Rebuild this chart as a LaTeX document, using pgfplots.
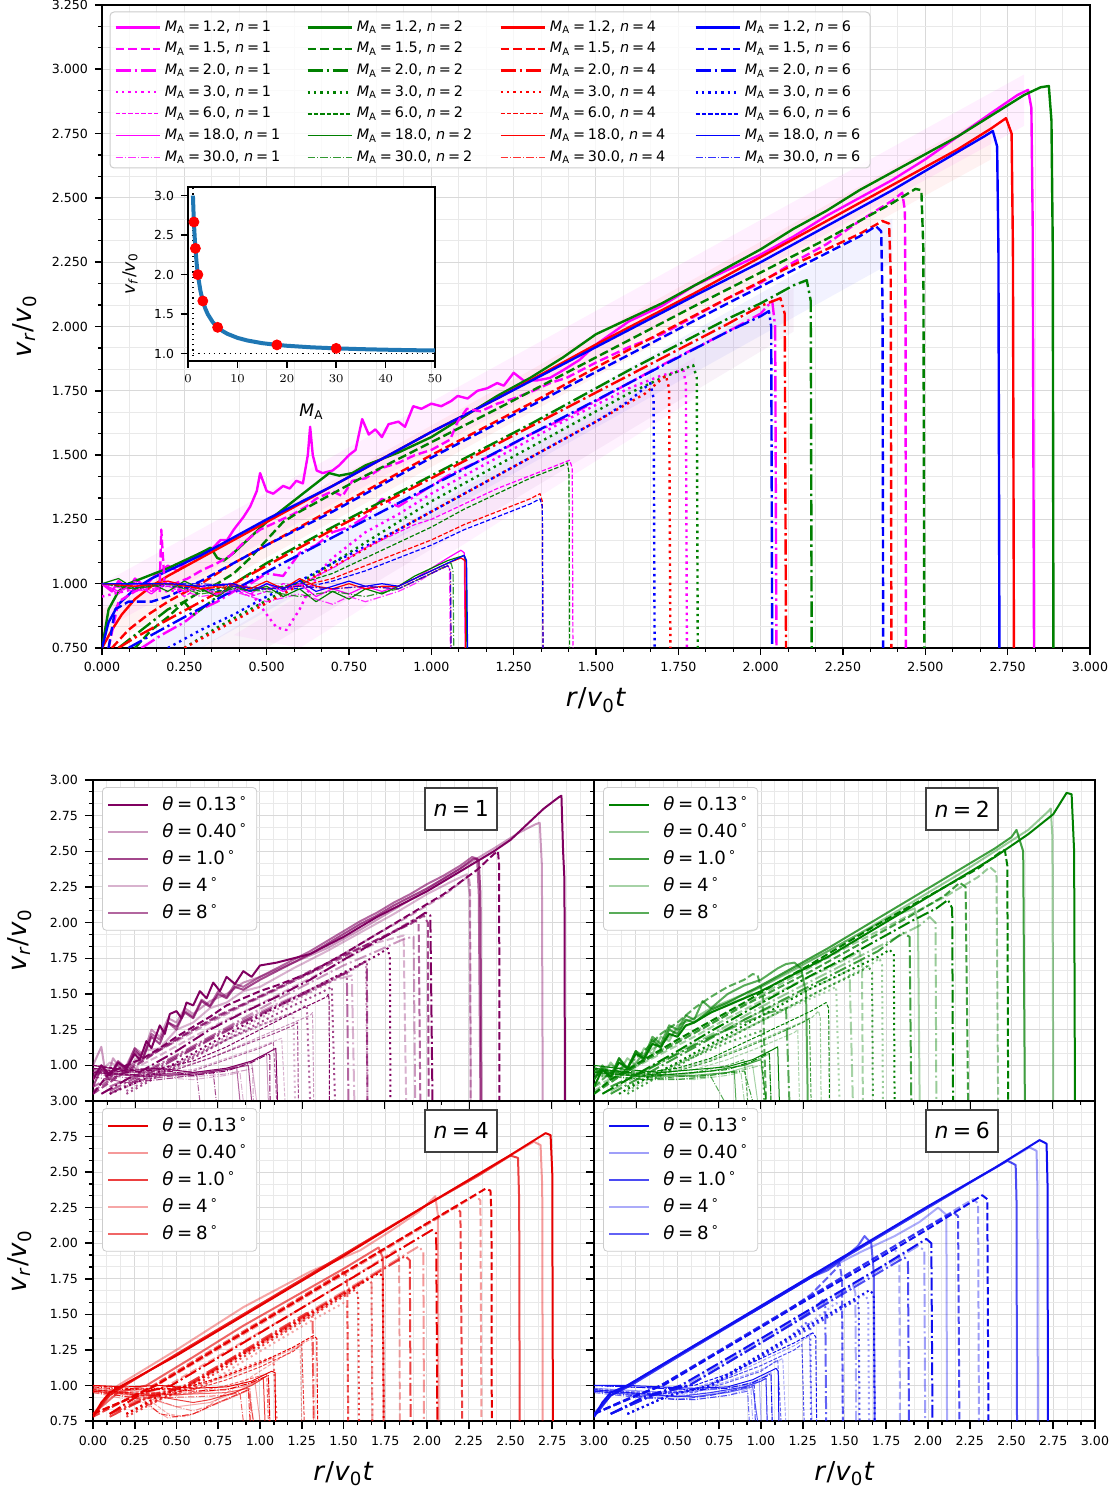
\documentclass[border=0pt]{standalone}
\usepackage{fontspec}
\setmainfont{DejaVu Sans}
\usepackage{pgfplots}
\pgfplotsset{compat=1.18}
\newcommand{\MA}{\textit{M}\textsubscript{A}}
\newcommand{\eq}{\hspace{0.2em}=\hspace{0.2em}}
\newcommand{\vrv}{\textit{v}\textsubscript{\textit{r}}/\textit{v}\textsubscript{0}}
\newcommand{\rvt}{\textit{r}/\textit{v}\textsubscript{0}\textit{t}}
\newcommand{\thl}[1]{\textit{θ}\eq#1\hspace{0.12em}\textsuperscript{∘}}
\newcommand{\cv}[2]{\addplot[#1,forget plot] coordinates {#2};}
\newcommand{\lgE}[3]{\addlegendimage{color=#1,draw=#1,#2}\addlegendentry{\MA\eq#3, \textit{n}\eq\nn}}
\definecolor{cM}{RGB}{255,0,255}
\definecolor{cG}{RGB}{0,128,0}
\definecolor{cR}{RGB}{255,0,0}
\definecolor{cB}{RGB}{0,0,255}
\definecolor{pP}{RGB}{128,0,96}
\definecolor{pG}{RGB}{0,128,0}
\definecolor{pR}{RGB}{230,0,0}
\definecolor{pB}{RGB}{15,15,240}
\definecolor{tabblue}{RGB}{31,119,180}
\tikzset{
 P1/.style={color=pP,draw opacity=1}, P2/.style={color=pP,draw opacity=0.4}, P3/.style={color=pP,draw opacity=0.72}, P4/.style={color=pP,draw opacity=0.3}, P5/.style={color=pP,draw opacity=0.6},
 G1/.style={color=pG,draw opacity=1}, G2/.style={color=pG,draw opacity=0.4}, G3/.style={color=pG,draw opacity=0.75}, G4/.style={color=pG,draw opacity=0.35}, G5/.style={color=pG,draw opacity=0.65},
 R1/.style={color=pR,draw opacity=1}, R2/.style={color=pR,draw opacity=0.4}, R3/.style={color=pR,draw opacity=0.75}, R4/.style={color=pR,draw opacity=0.35}, R5/.style={color=pR,draw opacity=0.6},
 B1/.style={color=pB,draw opacity=1}, B2/.style={color=pB,draw opacity=0.4}, B3/.style={color=pB,draw opacity=0.75}, B4/.style={color=pB,draw opacity=0.35}, B5/.style={color=pB,draw opacity=0.65},
 tA/.style={line width=1.2pt},
 tB/.style={line width=1.2pt, dash pattern=on 4.4pt off 1.9pt},
 tC/.style={line width=1.2pt, dash pattern=on 7.7pt off 1.9pt on 1.2pt off 1.9pt},
 tD/.style={line width=1.2pt, dash pattern=on 1.2pt off 2pt},
 tE/.style={line width=0.6pt, dash pattern=on 2.2pt off 1pt},
 tF/.style={line width=0.6pt},
 tG/.style={line width=0.6pt, dash pattern=on 3.8pt off 1pt on 0.6pt off 1pt, draw opacity=0.8},
 bA/.style={line width=1pt},
 bB/.style={line width=1pt, dash pattern=on 3.7pt off 1.6pt},
 bC/.style={line width=1pt, dash pattern=on 6.4pt off 1.6pt on 1pt off 1.6pt},
 bD/.style={line width=1pt, dash pattern=on 1pt off 1.65pt},
 bE/.style={line width=0.5pt, dash pattern=on 1.85pt off 0.8pt},
 bF/.style={line width=0.5pt},
 bG/.style={line width=0.5pt, dash pattern=on 3.2pt off 0.8pt on 0.5pt off 0.8pt},
 nbox/.style={draw=black!75, line width=1pt, fill=white, minimum width=36pt, minimum height=21pt, font=\fontsize{11}{13}\selectfont},
}
\pgfplotsset{
 myaxis/.style={scale only axis, anchor=south west, axis line style={line width=0.9pt}, tick pos=left, tick align=outside,
  major tick length=3.5pt, minor tick length=2pt, tick style={black}, major tick style={line width=0.8pt}, minor tick style={line width=0.6pt},
  grid=both, major grid style={gray!30, line width=0.5pt}, minor grid style={gray!17, line width=0.45pt}, minor tick num=2,
  ticklabel style={font=\fontsize{6.3}{7}\selectfont}, every axis plot/.append style={line join=round}},
 lowaxis/.style={myaxis, width=250.5pt, xmin=0, xmax=3, ymin=0.75, ymax=3,
  xtick={0,0.25,0.5,0.75,1,1.25,1.5,1.75,2,2.25,2.5,2.75,3}, major tick length=4pt,
  legend cell align=left, legend image code/.code={\draw[##1] (0pt,0pt) -- (20pt,0pt); \path (24.5pt,0pt);},
  legend style={at={(0.018,0.978)}, anchor=north west, font=\fontsize{9.1}{11}\selectfont, draw=gray!40, rounded corners=2pt, fill=white, row sep=1pt, inner sep=2.5pt}},
 legaxis/.style={scale only axis, anchor=south west, at={(51pt,424pt)}, width=494pt, height=321.5pt, hide axis, xmin=0, xmax=1, ymin=0, ymax=1,
  legend cell align=left, legend image code/.code={\draw[##1] (0pt,0pt) -- (22pt,0pt);},
  legend style={at={(#1,0.989)}, anchor=north west, font=\fontsize{7.2}{8.2}\selectfont, draw=none, fill=none, row sep=0pt, inner sep=2pt}},
}
\begin{document}
\begin{tikzpicture}
\useasboundingbox (0,0) rectangle (559pt,748pt);
% ================= TOP PANEL =================
\begin{axis}[myaxis, at={(51pt,424pt)}, width=494pt, height=321.5pt, xmin=0, xmax=3, ymin=0.75, ymax=3.25,
 xtick={0,0.25,0.5,0.75,1,1.25,1.5,1.75,2,2.25,2.5,2.75,3},
 xticklabels={0.000,0.250,0.500,0.750,1.000,1.250,1.500,1.750,2.000,2.250,2.500,2.750,3.000},
 ytick={0.75,1,1.25,1.5,1.75,2,2.25,2.5,2.75,3,3.25},
 yticklabels={0.750,1.000,1.250,1.500,1.750,2.000,2.250,2.500,2.750,3.000,3.250},
 xlabel={\rvt}, ylabel={\vrv},
 xlabel style={font=\fontsize{13}{15}\selectfont, at={(axis description cs:0.5,-0.081)}, anchor=center},
 ylabel style={font=\fontsize{13}{15}\selectfont, at={(axis description cs:-0.078,0.5)}, anchor=center},
]
% faint bands
\addplot[fill=cM, fill opacity=0.06, draw=none] coordinates {(0,1.0)(2.8,2.98)(2.8,2.78)(0,0.82)} -- cycle;
\addplot[fill=cR, fill opacity=0.05, draw=none] coordinates {(0,0.9)(2.7,2.83)(2.7,2.65)(0,0.75)} -- cycle;
\addplot[fill=cB, fill opacity=0.05, draw=none] coordinates {(0.1,0.75)(2.4,2.42)(2.4,2.25)(0.3,0.75)} -- cycle;
\addplot[fill=violet, fill opacity=0.05, draw=none] coordinates {(0.3,0.75)(2.1,2.15)(2.1,1.98)(0.5,0.75)} -- cycle;
\addplot[fill=cM, fill opacity=0.05, draw=none] coordinates {(0.4,0.8)(1.8,1.88)(1.8,1.72)(0.6,0.75)} -- cycle;
% M=1.2
\addplot[color=cM,tA] coordinates {(0.0,1.0)(0.03,0.97)(0.05,1.01)(0.08,0.98)(0.1,1.02)(0.13,0.99)(0.16,1.03)(0.2,1.07)(0.23,1.05)(0.26,1.09)(0.3,1.12)(0.33,1.13)(0.36,1.17)(0.38,1.17)(0.4,1.21)(0.43,1.26)(0.45,1.3)(0.47,1.36)(0.48,1.43)(0.5,1.36)(0.52,1.35)(0.55,1.38)(0.57,1.37)(0.59,1.40)(0.61,1.39)(0.625,1.50)(0.632,1.61)(0.64,1.50)(0.652,1.44)(0.67,1.43)(0.70,1.44)(0.72,1.46)(0.75,1.50)(0.77,1.52)(0.79,1.64)(0.81,1.58)(0.83,1.60)(0.85,1.57)(0.87,1.62)(0.9,1.63)(0.92,1.61)(0.945,1.69)(0.97,1.68)(1.0,1.70)(1.03,1.69)(1.06,1.71)(1.08,1.73)(1.11,1.72)(1.14,1.75)(1.17,1.76)(1.2,1.78)(1.22,1.77)(1.25,1.82)(1.28,1.79)(1.32,1.79)(1.36,1.80)(1.4,1.83)(1.45,1.87)(1.5,1.93)(1.6,2.02)(1.7,2.08)(1.8,2.16)(1.9,2.22)(2.0,2.28)(2.1,2.35)(2.2,2.43)(2.3,2.50)(2.4,2.57)(2.5,2.65)(2.6,2.74)(2.7,2.83)(2.78,2.9)(2.812,2.92)(2.822,2.85)(2.826,2.4)(2.83,0.75)};
\addplot[color=cG,tA] coordinates {(0.0,0.75)(0.02,0.9)(0.05,0.97)(0.08,1.0)(0.12,1.02)(0.16,1.04)(0.2,1.06)(0.25,1.09)(0.3,1.12)(0.33,1.14)(0.35,1.10)(0.37,1.09)(0.4,1.12)(0.45,1.18)(0.5,1.24)(0.55,1.29)(0.6,1.34)(0.65,1.39)(0.69,1.43)(0.72,1.42)(0.76,1.43)(0.8,1.46)(0.9,1.51)(1.0,1.57)(1.1,1.65)(1.2,1.73)(1.3,1.80)(1.4,1.88)(1.5,1.97)(1.6,2.03)(1.7,2.09)(1.8,2.16)(1.9,2.23)(2.0,2.30)(2.1,2.38)(2.2,2.45)(2.3,2.53)(2.4,2.60)(2.5,2.67)(2.6,2.74)(2.7,2.82)(2.8,2.90)(2.85,2.93)(2.875,2.935)(2.883,2.8)(2.887,2.3)(2.889,0.75)};
\addplot[color=cR,tA] coordinates {(0.0,0.75)(0.03,0.82)(0.06,0.88)(0.1,0.94)(0.15,0.99)(0.2,1.03)(0.3,1.10)(0.4,1.17)(0.5,1.24)(0.7,1.38)(1.0,1.59)(1.2,1.72)(1.5,1.93)(1.8,2.13)(2.0,2.27)(2.2,2.41)(2.4,2.55)(2.6,2.69)(2.7,2.77)(2.745,2.81)(2.762,2.75)(2.766,2.3)(2.769,0.75)};
\addplot[color=cB,tA] coordinates {(0.0,0.75)(0.02,0.85)(0.05,0.92)(0.1,0.98)(0.15,1.02)(0.2,1.05)(0.3,1.11)(0.4,1.18)(0.5,1.25)(0.7,1.38)(1.0,1.59)(1.2,1.72)(1.5,1.92)(1.8,2.12)(2.0,2.25)(2.2,2.39)(2.4,2.53)(2.6,2.68)(2.68,2.74)(2.705,2.76)(2.718,2.7)(2.722,2.3)(2.725,0.75)};
% M=1.5
\addplot[color=cM,tB] coordinates {(0.02,0.75)(0.05,0.93)(0.1,0.97)(0.15,1.0)(0.175,0.98)(0.18,1.21)(0.19,1.0)(0.22,1.0)(0.26,1.02)(0.3,1.05)(0.35,1.08)(0.39,1.11)(0.43,1.16)(0.48,1.21)(0.53,1.24)(0.58,1.27)(0.62,1.30)(0.65,1.33)(0.7,1.36)(0.73,1.34)(0.76,1.40)(0.8,1.41)(0.85,1.45)(0.9,1.47)(0.95,1.50)(1.0,1.52)(1.057,1.56)(1.08,1.63)(1.108,1.68)(1.15,1.67)(1.2,1.70)(1.25,1.72)(1.31,1.75)(1.36,1.78)(1.41,1.80)(1.5,1.86)(1.6,1.92)(1.7,1.97)(1.8,2.04)(1.9,2.11)(2.0,2.17)(2.1,2.25)(2.2,2.32)(2.3,2.41)(2.4,2.49)(2.43,2.52)(2.438,2.45)(2.44,2.0)(2.441,0.75)};
\addplot[color=cG,tB] coordinates {(0.1,0.75)(0.15,0.82)(0.2,0.87)(0.25,0.93)(0.3,0.97)(0.35,1.0)(0.4,1.04)(0.45,1.1)(0.5,1.17)(0.55,1.24)(0.6,1.28)(0.7,1.35)(0.8,1.42)(1.0,1.55)(1.2,1.68)(1.5,1.88)(1.8,2.08)(2.0,2.21)(2.2,2.34)(2.4,2.48)(2.47,2.535)(2.488,2.53)(2.494,2.3)(2.497,0.75)};
\addplot[color=cR,tB] coordinates {(0.03,0.75)(0.08,0.82)(0.14,0.88)(0.2,0.93)(0.3,1.0)(0.4,1.08)(0.5,1.15)(0.7,1.29)(1.0,1.5)(1.3,1.7)(1.6,1.91)(1.9,2.11)(2.1,2.24)(2.3,2.36)(2.37,2.41)(2.39,2.40)(2.395,2.2)(2.397,0.75)};
\addplot[color=cB,tB] coordinates {(0.02,0.75)(0.04,0.9)(0.08,0.93)(0.15,0.93)(0.2,0.95)(0.3,1.01)(0.4,1.08)(0.5,1.15)(0.7,1.28)(1.0,1.49)(1.3,1.69)(1.6,1.89)(1.9,2.09)(2.1,2.22)(2.3,2.35)(2.35,2.39)(2.366,2.37)(2.37,2.1)(2.372,0.75)};
% M=2.0
\addplot[color=cM,tC] coordinates {(0.12,0.75)(0.18,0.8)(0.25,0.85)(0.3,0.9)(0.35,0.93)(0.4,0.97)(0.45,1.0)(0.5,1.04)(0.55,1.03)(0.6,1.12)(0.65,1.15)(0.7,1.2)(0.75,1.22)(0.8,1.26)(0.85,1.33)(0.9,1.3)(0.95,1.34)(1.0,1.38)(1.05,1.42)(1.1,1.45)(1.2,1.51)(1.3,1.58)(1.4,1.64)(1.5,1.71)(1.7,1.85)(1.9,1.98)(2.0,2.05)(2.035,2.10)(2.044,2.0)(2.048,0.75)};
\addplot[color=cG,tC] coordinates {(0.05,0.75)(0.1,0.8)(0.15,0.85)(0.2,0.9)(0.25,0.93)(0.28,0.88)(0.32,0.92)(0.4,1.0)(0.5,1.08)(0.6,1.15)(0.7,1.22)(1.0,1.42)(1.3,1.62)(1.6,1.83)(1.9,2.03)(2.0,2.09)(2.1,2.16)(2.14,2.18)(2.152,2.1)(2.155,0.75)};
\addplot[color=cR,tC] coordinates {(0.05,0.75)(0.1,0.79)(0.2,0.86)(0.3,0.93)(0.4,1.0)(0.5,1.07)(0.7,1.21)(1.0,1.41)(1.3,1.61)(1.6,1.81)(1.9,2.01)(2.0,2.08)(2.06,2.11)(2.073,2.05)(2.077,0.75)};
\addplot[color=cB,tC] coordinates {(0.08,0.75)(0.15,0.8)(0.25,0.87)(0.35,0.94)(0.45,1.01)(0.55,1.08)(0.7,1.18)(1.0,1.38)(1.3,1.58)(1.6,1.78)(1.9,1.98)(2.0,2.04)(2.025,2.06)(2.032,2.0)(2.035,0.75)};
% M=3.0
\addplot[color=cM,tD] coordinates {(0.0,0.95)(0.1,0.98)(0.2,0.97)(0.3,0.99)(0.4,1.0)(0.45,0.97)(0.5,0.88)(0.53,0.83)(0.56,0.82)(0.6,0.9)(0.63,0.98)(0.67,1.06)(0.7,1.1)(0.75,1.15)(0.8,1.2)(0.9,1.27)(1.0,1.35)(1.2,1.49)(1.4,1.63)(1.6,1.76)(1.7,1.81)(1.765,1.83)(1.773,1.78)(1.776,0.75)};
\addplot[color=cG,tD] coordinates {(0.25,0.75)(0.35,0.83)(0.45,0.9)(0.55,0.97)(0.65,1.04)(0.75,1.12)(0.85,1.2)(1.0,1.32)(1.2,1.46)(1.4,1.6)(1.6,1.74)(1.7,1.8)(1.795,1.85)(1.806,1.8)(1.809,0.75)};
\addplot[color=cR,tD] coordinates {(0.25,0.75)(0.35,0.82)(0.45,0.89)(0.55,0.96)(0.65,1.03)(0.75,1.1)(0.9,1.21)(1.1,1.35)(1.3,1.49)(1.5,1.63)(1.65,1.74)(1.712,1.81)(1.722,1.76)(1.726,0.75)};
\addplot[color=cB,tD] coordinates {(0.2,0.75)(0.3,0.82)(0.4,0.88)(0.5,0.95)(0.6,1.01)(0.7,1.08)(0.9,1.21)(1.1,1.35)(1.3,1.49)(1.5,1.63)(1.6,1.71)(1.665,1.78)(1.675,1.72)(1.678,0.75)};
% M=6.0
\addplot[color=cM,tE] coordinates {(0.0,1.0)(0.05,0.96)(0.1,1.01)(0.15,0.97)(0.2,1.0)(0.25,0.95)(0.3,0.99)(0.35,0.96)(0.4,0.98)(0.45,0.95)(0.5,0.97)(0.55,1.0)(0.6,0.99)(0.65,1.03)(0.7,1.06)(0.75,1.1)(0.8,1.14)(0.85,1.17)(0.9,1.2)(0.95,1.23)(1.0,1.25)(1.05,1.28)(1.1,1.31)(1.15,1.34)(1.2,1.37)(1.3,1.42)(1.4,1.47)(1.42,1.48)(1.428,1.45)(1.43,0.75)};
\addplot[color=cG,tE] coordinates {(0.0,1.0)(0.1,0.98)(0.2,1.0)(0.3,0.97)(0.4,0.99)(0.5,0.98)(0.6,1.0)(0.7,1.04)(0.8,1.1)(0.9,1.16)(1.0,1.22)(1.1,1.29)(1.2,1.35)(1.3,1.41)(1.4,1.46)(1.413,1.47)(1.418,1.43)(1.42,0.75)};
\addplot[color=cR,tE] coordinates {(0.0,1.0)(0.1,0.99)(0.2,1.0)(0.3,0.98)(0.4,0.99)(0.5,0.98)(0.6,0.99)(0.7,1.02)(0.8,1.07)(0.9,1.12)(1.0,1.17)(1.1,1.23)(1.2,1.28)(1.3,1.33)(1.33,1.35)(1.337,1.32)(1.339,0.75)};
\addplot[color=cB,tE] coordinates {(0.0,1.0)(0.1,1.0)(0.2,0.99)(0.3,0.98)(0.4,0.97)(0.5,0.98)(0.6,0.98)(0.7,1.01)(0.8,1.05)(0.9,1.1)(1.0,1.15)(1.1,1.21)(1.2,1.26)(1.3,1.31)(1.33,1.33)(1.337,1.3)(1.339,0.75)};
% M=18
\addplot[color=cM,tF] coordinates {(0.0,1.0)(0.05,0.97)(0.1,1.0)(0.15,0.96)(0.2,1.01)(0.25,0.97)(0.3,0.99)(0.35,0.95)(0.4,0.99)(0.45,0.96)(0.5,1.0)(0.55,0.97)(0.6,1.0)(0.65,0.95)(0.7,0.98)(0.75,0.96)(0.8,0.99)(0.85,0.97)(0.9,0.99)(0.95,1.02)(1.0,1.06)(1.05,1.1)(1.09,1.13)(1.1,1.12)(1.103,0.75)};
\addplot[color=cG,tF] coordinates {(0.0,1.0)(0.05,1.02)(0.1,0.98)(0.15,1.0)(0.2,0.97)(0.25,1.01)(0.3,0.98)(0.35,0.95)(0.4,0.99)(0.45,0.97)(0.5,0.99)(0.55,0.95)(0.6,0.98)(0.65,0.93)(0.7,0.97)(0.75,0.94)(0.8,0.98)(0.85,0.96)(0.9,0.99)(0.95,1.03)(1.0,1.06)(1.05,1.09)(1.1,1.11)(1.106,1.08)(1.108,0.75)};
\addplot[color=cR,tF] coordinates {(0.0,1.0)(0.1,0.99)(0.2,1.01)(0.3,0.98)(0.4,1.0)(0.45,0.98)(0.5,1.01)(0.55,0.98)(0.6,1.02)(0.65,0.99)(0.7,0.98)(0.75,1.0)(0.8,0.98)(0.85,0.99)(0.9,0.99)(0.95,1.02)(1.0,1.05)(1.05,1.08)(1.09,1.1)(1.102,1.09)(1.104,0.75)};
\addplot[color=cB,tF] coordinates {(0.0,1.0)(0.1,1.0)(0.2,1.0)(0.3,0.99)(0.4,1.0)(0.45,0.97)(0.5,1.0)(0.55,0.98)(0.6,1.01)(0.65,0.97)(0.7,0.99)(0.75,1.01)(0.8,0.99)(0.85,1.0)(0.9,0.99)(0.95,1.02)(1.0,1.05)(1.05,1.08)(1.1,1.11)(1.107,1.09)(1.11,0.75)};
% M=30
\addplot[color=cM,tG] coordinates {(0.0,1.0)(0.1,0.97)(0.2,0.99)(0.3,0.95)(0.4,0.97)(0.5,0.93)(0.6,0.96)(0.7,0.92)(0.75,0.95)(0.8,0.93)(0.85,0.95)(0.9,0.97)(0.95,1.0)(1.0,1.04)(1.05,1.07)(1.055,1.06)(1.058,0.75)};
\addplot[color=cG,tG] coordinates {(0.0,1.0)(0.1,0.98)(0.2,1.0)(0.3,0.96)(0.4,0.98)(0.5,0.97)(0.6,0.95)(0.7,0.97)(0.8,0.95)(0.9,0.98)(0.95,1.01)(1.0,1.04)(1.06,1.08)(1.066,1.05)(1.068,0.75)};
\addplot[color=cR,tG] coordinates {(0.0,1.0)(0.1,0.99)(0.2,1.0)(0.3,0.98)(0.4,0.99)(0.5,0.98)(0.6,0.99)(0.7,0.98)(0.8,0.99)(0.9,0.98)(0.95,1.01)(1.0,1.04)(1.05,1.07)(1.058,1.05)(1.06,0.75)};
\addplot[color=cB,tG] coordinates {(0.0,1.0)(0.1,1.0)(0.2,1.0)(0.3,1.0)(0.4,0.99)(0.5,0.98)(0.6,0.99)(0.7,0.98)(0.8,0.99)(0.9,0.98)(0.95,1.01)(1.0,1.04)(1.05,1.07)(1.058,1.05)(1.06,0.75)};
\end{axis}
% legend frame and four legend columns
\draw[gray!40, line width=0.5pt, fill=white, fill opacity=0.8, rounded corners=2pt] (55pt,664pt) rectangle (435pt,742pt);
\def\nn{1}
\begin{axis}[legaxis=0.0081]
\lgE{cM}{tA}{1.2}\lgE{cM}{tB}{1.5}\lgE{cM}{tC}{2.0}\lgE{cM}{tD}{3.0}\lgE{cM}{tE}{6.0}\lgE{cM}{tF}{18.0}\lgE{cM}{tG}{30.0}
\end{axis}
\def\nn{2}
\begin{axis}[legaxis=0.2024]
\lgE{cG}{tA}{1.2}\lgE{cG}{tB}{1.5}\lgE{cG}{tC}{2.0}\lgE{cG}{tD}{3.0}\lgE{cG}{tE}{6.0}\lgE{cG}{tF}{18.0}\lgE{cG}{tG}{30.0}
\end{axis}
\def\nn{4}
\begin{axis}[legaxis=0.3978]
\lgE{cR}{tA}{1.2}\lgE{cR}{tB}{1.5}\lgE{cR}{tC}{2.0}\lgE{cR}{tD}{3.0}\lgE{cR}{tE}{6.0}\lgE{cR}{tF}{18.0}\lgE{cR}{tG}{30.0}
\end{axis}
\def\nn{6}
\begin{axis}[legaxis=0.5951]
\lgE{cB}{tA}{1.2}\lgE{cB}{tB}{1.5}\lgE{cB}{tC}{2.0}\lgE{cB}{tD}{3.0}\lgE{cB}{tE}{6.0}\lgE{cB}{tF}{18.0}\lgE{cB}{tG}{30.0}
\end{axis}
% ================= INSET =================
\begin{axis}[scale only axis, anchor=south west, at={(94pt,567.5pt)}, width=123.5pt, height=87pt,
 xmin=0, xmax=50, ymin=0.907, ymax=3.11, xtick={0,10,20,30,40,50}, ytick={1,1.5,2,2.5,3},
 yticklabels={1.0,1.5,2.0,2.5,3.0},
 axis background/.style={fill=white}, axis line style={line width=0.9pt},
 tick pos=left, tick align=outside, major tick length=3.5pt, tick style={black, line width=0.8pt},
 ticklabel style={font=\fontsize{6.2}{7}\selectfont},
 xlabel={\MA}, ylabel={\textit{v}\textsubscript{\textit{f}}/\textit{v}\textsubscript{0}},
 xlabel style={font=\fontsize{8.6}{10}\selectfont, at={(axis description cs:0.5,-0.293)}, anchor=center},
 ylabel style={font=\fontsize{8.6}{10}\selectfont, at={(axis description cs:-0.235,0.5)}, anchor=center},
]
\addplot[black, dotted, line width=0.6pt] coordinates {(1,0.907)(1,3.11)};
\addplot[black, dotted, line width=0.6pt] coordinates {(0,1)(50,1)};
\addplot[color=tabblue, line width=2pt] coordinates {(1.0,3.0)(1.1,2.818)(1.2,2.667)(1.3,2.538)(1.4,2.429)(1.5,2.333)(1.75,2.143)(2,2.0)(2.5,1.8)(3,1.667)(3.5,1.571)(4,1.5)(5,1.4)(6,1.333)(7,1.286)(8,1.25)(10,1.2)(12,1.167)(15,1.133)(18,1.111)(20,1.1)(25,1.08)(30,1.067)(35,1.057)(40,1.05)(45,1.044)(50,1.04)};
\addplot[only marks, mark=*, mark size=2.5pt, color=red, fill=red] coordinates {(1.2,2.667)(1.5,2.333)(2,2.0)(3,1.667)(6,1.333)(18,1.111)(30,1.067)};
\end{axis}
% ================= n = 1 =================
\begin{axis}[lowaxis, at={(46.5pt,197.5pt)}, height=160.5pt,
 xticklabels={}, ytick={1,1.25,1.5,1.75,2,2.25,2.5,2.75,3}, yticklabels={1.00,1.25,1.50,1.75,2.00,2.25,2.50,2.75,3.00},
 ylabel={\vrv}, ylabel style={font=\fontsize{13}{15}\selectfont, at={(axis description cs:-0.146,0.5)}, anchor=center}]
\addlegendimage{P1,bA}\addlegendentry{\thl{0.13}}
\addlegendimage{P2,bA}\addlegendentry{\thl{0.40}}
\addlegendimage{P3,bA}\addlegendentry{\thl{1.0}}
\addlegendimage{P4,bA}\addlegendentry{\thl{4}}
\addlegendimage{P5,bA}\addlegendentry{\thl{8}}
% theta 0.13
\cv{P1,bA}{(0.0,0.9)(0.05,1.0)(0.1,0.93)(0.15,1.02)(0.2,0.98)(0.25,1.08)(0.28,1.04)(0.32,1.17)(0.35,1.12)(0.4,1.28)(0.43,1.22)(0.46,1.36)(0.5,1.38)(0.53,1.33)(0.56,1.44)(0.6,1.42)(0.64,1.52)(0.68,1.47)(0.72,1.58)(0.76,1.52)(0.8,1.62)(0.85,1.57)(0.9,1.66)(0.95,1.62)(1.0,1.70)(1.1,1.72)(1.2,1.75)(1.3,1.78)(1.4,1.84)(1.5,1.90)(1.6,1.97)(1.7,2.04)(1.8,2.10)(1.9,2.16)(2.0,2.22)(2.1,2.29)(2.2,2.36)(2.3,2.43)(2.4,2.50)(2.5,2.58)(2.6,2.69)(2.7,2.80)(2.79,2.88)(2.805,2.89)(2.815,2.5)(2.823,2.3)(2.826,0.75)}
\cv{P1,bB}{(0.0,0.8)(0.1,0.95)(0.2,1.0)(0.3,1.05)(0.4,1.12)(0.5,1.2)(0.6,1.27)(0.7,1.34)(0.8,1.42)(0.9,1.47)(1.0,1.52)(1.1,1.56)(1.3,1.65)(1.5,1.78)(1.7,1.92)(1.9,2.06)(2.1,2.2)(2.3,2.37)(2.4,2.48)(2.425,2.50)(2.432,2.4)(2.434,0.75)}
\cv{P1,bC}{(0.05,0.8)(0.2,0.9)(0.35,1.0)(0.5,1.1)(0.7,1.25)(0.9,1.37)(1.1,1.48)(1.3,1.6)(1.5,1.74)(1.7,1.87)(1.9,2.0)(1.99,2.07)(2.02,2.05)(2.033,0.75)}
\cv{P1,bD}{(0.1,0.8)(0.3,0.9)(0.5,1.02)(0.7,1.15)(0.9,1.28)(1.1,1.41)(1.3,1.53)(1.5,1.65)(1.7,1.77)(1.765,1.82)(1.778,1.75)(1.781,0.75)}
\cv{P1,bE}{(0.0,1.0)(0.2,0.97)(0.4,0.98)(0.6,1.03)(0.8,1.13)(1.0,1.25)(1.2,1.37)(1.4,1.48)(1.41,1.5)(1.414,1.45)(1.416,0.75)}
\cv{P1,bF}{(0,1.0)(0.2,0.96)(0.4,0.98)(0.6,0.95)(0.8,0.98)(0.95,1.03)(1.05,1.09)(1.095,1.12)(1.105,0.75)}
\cv{P1,bG}{(0,0.98)(0.2,0.95)(0.4,0.97)(0.6,0.93)(0.8,0.96)(0.95,1.02)(1.05,1.08)(1.059,1.07)(1.06,0.75)}
% theta 0.40
\cv{P2,bA}{(0.0,1.0)(0.05,1.13)(0.08,0.9)(0.12,1.05)(0.18,0.95)(0.25,1.12)(0.3,1.08)(0.35,1.25)(0.4,1.2)(0.45,1.33)(0.5,1.3)(0.55,1.4)(0.6,1.36)(0.7,1.45)(0.8,1.5)(0.9,1.58)(1.0,1.62)(1.2,1.72)(1.4,1.82)(1.6,1.95)(1.8,2.09)(2.0,2.23)(2.2,2.38)(2.4,2.52)(2.55,2.63)(2.65,2.69)(2.675,2.70)(2.688,2.4)(2.693,0.75)}
\cv{P2,bB}{(0.0,0.85)(0.15,0.95)(0.3,1.05)(0.5,1.17)(0.7,1.3)(0.9,1.42)(1.1,1.53)(1.3,1.65)(1.5,1.78)(1.7,1.92)(1.9,2.05)(2.1,2.19)(2.22,2.3)(2.25,2.33)(2.258,2.25)(2.262,0.75)}
\cv{P2,bC}{(0.1,0.85)(0.3,0.95)(0.5,1.07)(0.7,1.2)(0.9,1.33)(1.1,1.46)(1.3,1.58)(1.5,1.7)(1.7,1.8)(1.87,1.89)(1.92,1.9)(1.929,0.75)}
\cv{P2,bD}{(0.2,0.85)(0.4,0.95)(0.6,1.07)(0.8,1.2)(1.0,1.33)(1.2,1.45)(1.4,1.57)(1.6,1.7)(1.635,1.73)(1.643,0.75)}
\cv{P2,bE}{(0.0,0.97)(0.3,0.95)(0.5,0.98)(0.7,1.05)(0.9,1.15)(1.1,1.25)(1.3,1.35)(1.315,1.37)(1.322,0.75)}
\cv{P2,bF}{(0.0,1.0)(0.3,0.94)(0.6,0.93)(0.8,0.97)(0.95,1.03)(1.04,1.08)(1.05,0.75)}
\cv{P2,bG}{(0.0,0.96)(0.3,0.93)(0.6,0.92)(0.8,0.94)(0.93,0.97)(0.956,0.98)(0.96,0.75)}
% theta 1.0
\cv{P3,bA}{(0.0,0.85)(0.05,0.98)(0.1,0.9)(0.15,1.02)(0.2,0.96)(0.25,1.1)(0.3,1.05)(0.35,1.2)(0.4,1.15)(0.45,1.3)(0.5,1.27)(0.55,1.37)(0.6,1.33)(0.65,1.45)(0.7,1.41)(0.75,1.5)(0.8,1.47)(0.85,1.55)(0.9,1.53)(1.0,1.6)(1.1,1.66)(1.2,1.72)(1.3,1.78)(1.4,1.85)(1.5,1.92)(1.6,1.99)(1.7,2.05)(1.8,2.12)(1.9,2.18)(2.0,2.24)(2.1,2.31)(2.2,2.38)(2.28,2.45)(2.31,2.44)(2.32,2.2)(2.326,0.75)}
\cv{P3,bB}{(0.0,0.8)(0.15,0.92)(0.3,1.03)(0.45,1.15)(0.6,1.25)(0.75,1.35)(0.9,1.43)(1.1,1.54)(1.3,1.66)(1.5,1.77)(1.7,1.88)(1.9,1.99)(1.98,2.05)(2.005,2.0)(2.01,0.75)}
\cv{P3,bC}{(0.1,0.8)(0.3,0.92)(0.5,1.05)(0.7,1.18)(0.9,1.3)(1.1,1.41)(1.3,1.52)(1.5,1.64)(1.62,1.72)(1.64,1.73)(1.643,0.75)}
\cv{P3,bD}{(0.2,0.8)(0.4,0.93)(0.6,1.05)(0.8,1.18)(1.0,1.3)(1.2,1.42)(1.35,1.5)(1.43,1.55)(1.449,0.75)}
\cv{P3,bE}{(0.0,0.95)(0.3,0.93)(0.5,0.97)(0.7,1.05)(0.9,1.14)(1.1,1.23)(1.2,1.28)(1.225,1.3)(1.23,0.75)}
\cv{P3,bF}{(0.0,0.95)(0.3,0.92)(0.6,0.94)(0.8,0.97)(0.93,1.0)(0.95,0.75)}
\cv{P3,bG}{(0.0,0.92)(0.2,0.88)(0.4,0.9)(0.6,0.93)(0.72,0.95)(0.738,0.75)}
% theta 4
\cv{P4,bA}{(0.0,0.9)(0.1,1.02)(0.2,0.97)(0.3,1.1)(0.4,1.12)(0.5,1.25)(0.6,1.3)(0.7,1.4)(0.8,1.44)(0.9,1.52)(1.0,1.55)(1.2,1.68)(1.4,1.8)(1.6,1.93)(1.8,2.06)(2.0,2.2)(2.15,2.29)(2.24,2.34)(2.255,2.2)(2.262,0.75)}
\cv{P4,bB}{(0.0,0.85)(0.2,0.95)(0.4,1.07)(0.6,1.2)(0.8,1.32)(1.0,1.43)(1.2,1.55)(1.4,1.67)(1.6,1.8)(1.7,1.86)(1.86,1.91)(1.875,0.75)}
\cv{P4,bC}{(0.1,0.85)(0.3,0.95)(0.5,1.07)(0.7,1.2)(0.9,1.32)(1.1,1.43)(1.3,1.53)(1.45,1.6)(1.55,1.63)(1.565,0.75)}
\cv{P4,bD}{(0.2,0.85)(0.4,0.95)(0.6,1.07)(0.8,1.18)(1.0,1.28)(1.15,1.35)(1.2,1.36)(1.21,0.75)}
\cv{P4,bE}{(0.0,0.97)(0.3,0.95)(0.6,0.97)(0.8,1.05)(1.0,1.13)(1.13,1.19)(1.15,0.75)}
\cv{P4,bF}{(0.0,0.97)(0.3,0.95)(0.6,0.93)(0.8,0.98)(0.95,1.02)(0.98,0.75)}
\cv{P4,bG}{(0.0,0.95)(0.3,0.92)(0.6,0.9)(0.8,0.93)(0.88,0.95)(0.9,0.75)}
% theta 8
\cv{P5,bA}{(0.0,0.92)(0.05,1.0)(0.1,0.93)(0.15,1.03)(0.2,0.98)(0.25,1.12)(0.3,1.05)(0.35,1.22)(0.4,1.18)(0.45,1.3)(0.5,1.25)(0.55,1.38)(0.6,1.34)(0.65,1.46)(0.7,1.42)(0.75,1.52)(0.8,1.48)(0.85,1.57)(0.9,1.55)(1.0,1.62)(1.1,1.68)(1.2,1.74)(1.3,1.8)(1.4,1.87)(1.5,1.94)(1.6,2.01)(1.7,2.07)(1.8,2.14)(1.9,2.2)(2.0,2.27)(2.1,2.33)(2.2,2.4)(2.27,2.46)(2.3,2.45)(2.31,2.2)(2.32,0.75)}
\cv{P5,bB}{(0.0,0.82)(0.15,0.93)(0.3,1.04)(0.45,1.14)(0.6,1.25)(0.8,1.37)(1.0,1.48)(1.2,1.59)(1.4,1.7)(1.6,1.82)(1.8,1.94)(1.92,2.02)(1.95,2.0)(1.96,0.75)}
\cv{P5,bC}{(0.1,0.82)(0.3,0.94)(0.5,1.06)(0.7,1.19)(0.9,1.31)(1.1,1.42)(1.3,1.53)(1.45,1.62)(1.52,1.65)(1.53,0.75)}
\cv{P5,bD}{(0.2,0.82)(0.4,0.94)(0.6,1.06)(0.8,1.18)(1.0,1.28)(1.2,1.37)(1.28,1.42)(1.3,0.75)}
\cv{P5,bE}{(0.0,0.95)(0.3,0.93)(0.6,0.96)(0.8,1.04)(1.0,1.12)(1.08,1.16)(1.1,0.75)}
\cv{P5,bF}{(0.0,0.96)(0.3,0.93)(0.6,0.95)(0.8,0.97)(0.86,0.99)(0.88,0.75)}
\cv{P5,bG}{(0.0,0.94)(0.3,0.9)(0.5,0.93)(0.62,0.95)(0.64,0.75)}
\node[nbox] at (rel axis cs:0.735,0.91) {\textit{n}\eq1};
\end{axis}
% ================= n = 2 =================
\begin{axis}[lowaxis, at={(297pt,197.5pt)}, height=160.5pt,
 xticklabels={}, ytick={1,1.25,1.5,1.75,2,2.25,2.5,2.75,3}, yticklabels={}]
\addlegendimage{G1,bA}\addlegendentry{\thl{0.13}}
\addlegendimage{G2,bA}\addlegendentry{\thl{0.40}}
\addlegendimage{G3,bA}\addlegendentry{\thl{1.0}}
\addlegendimage{G4,bA}\addlegendentry{\thl{4}}
\addlegendimage{G5,bA}\addlegendentry{\thl{8}}
\cv{G1,bA}{(0.0,0.85)(0.05,0.97)(0.1,0.92)(0.15,1.02)(0.2,0.98)(0.25,1.08)(0.3,1.05)(0.35,1.15)(0.4,1.13)(0.45,1.22)(0.5,1.2)(0.55,1.28)(0.6,1.3)(0.7,1.37)(0.8,1.42)(0.9,1.47)(1.0,1.52)(1.2,1.64)(1.4,1.76)(1.6,1.9)(1.8,2.04)(2.0,2.18)(2.2,2.32)(2.4,2.46)(2.6,2.62)(2.75,2.76)(2.83,2.91)(2.86,2.9)(2.875,2.5)(2.88,0.75)}
\cv{G1,bB}{(0.0,0.8)(0.1,0.9)(0.2,0.97)(0.3,1.04)(0.5,1.18)(0.7,1.31)(0.9,1.44)(1.1,1.58)(1.3,1.71)(1.5,1.85)(1.7,1.99)(1.9,2.12)(2.1,2.25)(2.3,2.38)(2.44,2.5)(2.46,2.51)(2.475,2.4)(2.48,0.75)}
\cv{G1,bC}{(0.05,0.8)(0.2,0.9)(0.35,1.0)(0.5,1.1)(0.7,1.24)(0.9,1.37)(1.1,1.5)(1.3,1.63)(1.5,1.75)(1.7,1.88)(1.9,2.01)(2.05,2.1)(2.12,2.16)(2.145,2.1)(2.15,0.75)}
\cv{G1,bD}{(0.15,0.8)(0.3,0.9)(0.5,1.02)(0.7,1.15)(0.9,1.28)(1.1,1.41)(1.3,1.54)(1.5,1.65)(1.7,1.76)(1.77,1.81)(1.795,1.78)(1.8,0.75)}
\cv{G1,bE}{(0.0,0.97)(0.3,0.95)(0.5,0.98)(0.7,1.05)(0.9,1.16)(1.1,1.27)(1.3,1.38)(1.39,1.44)(1.405,1.4)(1.41,0.75)}
\cv{G1,bF}{(0.0,1.0)(0.2,0.97)(0.4,0.95)(0.6,0.97)(0.8,0.99)(0.95,1.04)(1.07,1.11)(1.1,1.13)(1.11,0.75)}
\cv{G1,bG}{(0.0,0.98)(0.2,0.95)(0.4,0.93)(0.6,0.95)(0.8,0.97)(0.95,1.03)(1.05,1.09)(1.06,0.75)}
\cv{G2,bA}{(0.0,1.0)(0.05,0.92)(0.1,1.02)(0.15,0.95)(0.2,1.05)(0.25,1.0)(0.3,1.12)(0.35,1.08)(0.4,1.2)(0.45,1.17)(0.5,1.28)(0.6,1.33)(0.7,1.4)(0.8,1.45)(0.9,1.5)(1.0,1.55)(1.2,1.67)(1.4,1.8)(1.6,1.93)(1.8,2.07)(2.0,2.21)(2.2,2.35)(2.4,2.5)(2.6,2.65)(2.72,2.78)(2.735,2.8)(2.745,2.6)(2.75,0.75)}
\cv{G2,bB}{(0.0,0.82)(0.15,0.93)(0.3,1.04)(0.5,1.17)(0.7,1.3)(0.9,1.43)(1.1,1.56)(1.3,1.69)(1.5,1.82)(1.7,1.94)(1.9,2.06)(2.1,2.18)(2.3,2.32)(2.37,2.39)(2.41,2.35)(2.42,0.75)}
\cv{G2,bC}{(0.1,0.82)(0.25,0.92)(0.4,1.02)(0.6,1.15)(0.8,1.28)(1.0,1.41)(1.2,1.53)(1.4,1.65)(1.6,1.77)(1.8,1.89)(1.95,1.98)(2.01,2.04)(2.045,2.0)(2.05,0.75)}
\cv{G2,bD}{(0.2,0.82)(0.35,0.92)(0.5,1.01)(0.7,1.13)(0.9,1.25)(1.1,1.37)(1.3,1.49)(1.5,1.61)(1.65,1.7)(1.71,1.75)(1.725,1.7)(1.73,0.75)}
\cv{G2,bE}{(0.0,0.96)(0.3,0.94)(0.5,0.97)(0.7,1.04)(0.9,1.13)(1.1,1.23)(1.3,1.33)(1.345,1.38)(1.355,1.33)(1.36,0.75)}
\cv{G2,bF}{(0.0,0.97)(0.3,0.94)(0.5,0.93)(0.7,0.96)(0.9,1.0)(1.0,1.05)(1.05,1.08)(1.06,0.75)}
\cv{G2,bG}{(0.0,0.95)(0.3,0.92)(0.5,0.9)(0.7,0.93)(0.9,0.97)(1.0,1.0)(1.03,0.75)}
\cv{G3,bA}{(0.0,0.9)(0.05,0.98)(0.1,0.9)(0.15,1.05)(0.2,0.97)(0.25,1.1)(0.3,1.03)(0.35,1.18)(0.4,1.12)(0.45,1.25)(0.5,1.22)(0.55,1.32)(0.6,1.3)(0.7,1.39)(0.8,1.44)(0.9,1.5)(1.0,1.56)(1.2,1.69)(1.4,1.82)(1.6,1.96)(1.8,2.1)(2.0,2.24)(2.2,2.38)(2.4,2.52)(2.5,2.6)(2.53,2.65)(2.57,2.5)(2.58,0.75)}
\cv{G3,bB}{(0.0,0.8)(0.15,0.92)(0.3,1.03)(0.5,1.16)(0.7,1.29)(0.9,1.42)(1.1,1.54)(1.3,1.66)(1.5,1.79)(1.7,1.92)(1.9,2.05)(2.1,2.19)(2.19,2.28)(2.225,2.25)(2.24,0.75)}
\cv{G3,bC}{(0.1,0.8)(0.3,0.93)(0.5,1.06)(0.7,1.19)(0.9,1.32)(1.1,1.44)(1.3,1.56)(1.5,1.68)(1.7,1.8)(1.85,1.93)(1.89,1.9)(1.9,0.75)}
\cv{G3,bD}{(0.2,0.8)(0.4,0.93)(0.6,1.06)(0.8,1.19)(1.0,1.31)(1.2,1.43)(1.4,1.55)(1.6,1.66)(1.64,1.7)(1.665,1.65)(1.67,0.75)}
\cv{G3,bE}{(0.0,0.95)(0.3,0.93)(0.5,0.96)(0.7,1.03)(0.9,1.12)(1.1,1.22)(1.25,1.3)(1.29,1.33)(1.3,0.75)}
\cv{G3,bF}{(0.0,0.96)(0.3,0.93)(0.5,0.94)(0.7,0.96)(0.9,1.0)(1.0,1.04)(1.03,0.75)}
\cv{G3,bG}{(0.0,0.94)(0.3,0.9)(0.5,0.92)(0.7,0.93)(0.9,0.96)(0.95,0.75)}
\cv{G4,bA}{(0.0,0.95)(0.1,1.0)(0.2,0.96)(0.3,1.08)(0.4,1.15)(0.5,1.25)(0.6,1.3)(0.7,1.38)(0.8,1.43)(0.9,1.47)(0.95,1.52)(1.0,1.55)(1.2,1.68)(1.4,1.8)(1.6,1.93)(1.8,2.05)(1.92,2.1)(1.94,2.0)(1.95,0.75)}
\cv{G4,bB}{(0.0,0.85)(0.2,0.96)(0.4,1.08)(0.6,1.2)(0.8,1.33)(1.0,1.45)(1.2,1.57)(1.4,1.68)(1.55,1.77)(1.59,1.8)(1.605,1.7)(1.61,0.75)}
\cv{G4,bC}{(0.1,0.85)(0.3,0.96)(0.5,1.08)(0.7,1.2)(0.9,1.32)(1.1,1.43)(1.3,1.54)(1.45,1.62)(1.53,1.67)(1.55,0.75)}
\cv{G4,bD}{(0.2,0.85)(0.4,0.96)(0.6,1.08)(0.8,1.2)(1.0,1.31)(1.2,1.42)(1.4,1.52)(1.45,1.55)(1.47,0.75)}
\cv{G4,bE}{(0.0,0.96)(0.3,0.94)(0.6,0.97)(0.8,1.04)(1.0,1.13)(1.2,1.23)(1.22,1.25)(1.23,0.75)}
\cv{G4,bF}{(0.0,0.97)(0.3,0.93)(0.6,0.92)(0.8,0.95)(0.95,1.0)(0.98,0.75)}
\cv{G4,bG}{(0.0,0.95)(0.3,0.92)(0.6,0.9)(0.8,0.93)(0.88,0.95)(0.9,0.75)}
\cv{G5,bA}{(0.0,0.9)(0.05,1.0)(0.1,0.93)(0.15,1.05)(0.2,0.98)(0.25,1.1)(0.3,1.06)(0.35,1.2)(0.4,1.15)(0.45,1.28)(0.5,1.25)(0.55,1.35)(0.6,1.32)(0.65,1.45)(0.7,1.4)(0.8,1.5)(0.9,1.56)(1.0,1.6)(1.05,1.64)(1.1,1.68)(1.15,1.71)(1.2,1.72)(1.24,1.68)(1.27,1.5)(1.28,0.75)}
\cv{G5,bB}{(0.0,0.85)(0.1,0.95)(0.2,1.0)(0.3,1.1)(0.4,1.22)(0.5,1.3)(0.6,1.4)(0.7,1.48)(0.8,1.55)(0.9,1.6)(0.95,1.64)(0.98,1.63)(1.01,1.5)(1.03,0.75)}
\cv{G5,bC}{(0.1,0.85)(0.3,0.96)(0.5,1.08)(0.7,1.2)(0.9,1.3)(1.05,1.37)(1.15,1.4)(1.17,0.75)}
\cv{G5,bD}{(0.2,0.85)(0.4,0.96)(0.6,1.06)(0.8,1.16)(0.95,1.22)(1.0,1.24)(1.02,0.75)}
\cv{G5,bE}{(0.0,0.95)(0.3,0.92)(0.6,0.95)(0.8,1.0)(0.9,1.04)(0.92,0.75)}
\cv{G5,bF}{(0.0,0.95)(0.3,0.92)(0.6,0.93)(0.8,0.95)(0.84,0.96)(0.85,0.75)}
\cv{G5,bG}{(0.0,0.93)(0.3,0.9)(0.5,0.9)(0.7,0.92)(0.78,0.75)}
\node[nbox] at (rel axis cs:0.735,0.91) {\textit{n}\eq2};
\end{axis}
% ================= n = 4 =================
\begin{axis}[lowaxis, at={(46.5pt,37.5pt)}, height=160pt,
 xticklabels={0.00,0.25,0.50,0.75,1.00,1.25,1.50,1.75,2.00,2.25,2.50,2.75,3.00},
 ytick={0.75,1,1.25,1.5,1.75,2,2.25,2.5,2.75,3}, yticklabels={0.75,1.00,1.25,1.50,1.75,2.00,2.25,2.50,2.75,3.00},
 xlabel={\rvt}, ylabel={\vrv},
 xlabel style={font=\fontsize{13}{15}\selectfont, at={(axis description cs:0.5,-0.165)}, anchor=center},
 ylabel style={font=\fontsize{13}{15}\selectfont, at={(axis description cs:-0.146,0.5)}, anchor=center}]
\addlegendimage{R1,bA}\addlegendentry{\thl{0.13}}
\addlegendimage{R2,bA}\addlegendentry{\thl{0.40}}
\addlegendimage{R3,bA}\addlegendentry{\thl{1.0}}
\addlegendimage{R4,bA}\addlegendentry{\thl{4}}
\addlegendimage{R5,bA}\addlegendentry{\thl{8}}
\cv{R1,bA}{(0.0,0.78)(0.05,0.88)(0.1,0.95)(0.176,1.0)(0.5,1.21)(1.0,1.56)(1.5,1.91)(2.0,2.27)(2.5,2.62)(2.71,2.774)(2.74,2.76)(2.75,2.5)(2.754,0.75)}
\cv{R1,bB}{(0.0,0.8)(0.1,0.85)(0.2,0.9)(0.374,1.0)(0.7,1.23)(1.0,1.44)(1.5,1.79)(2.0,2.14)(2.35,2.383)(2.38,2.37)(2.386,2.2)(2.388,0.75)}
\cv{R1,bC}{(0.1,0.8)(0.3,0.95)(0.469,1.0)(0.8,1.23)(1.2,1.51)(1.6,1.79)(2.03,2.093)(2.055,2.07)(2.062,0.75)}
\cv{R1,bD}{(0.2,0.8)(0.4,0.93)(0.58,1.0)(0.9,1.22)(1.2,1.43)(1.5,1.64)(1.71,1.79)(1.735,1.77)(1.741,0.75)}
\cv{R1,bE}{(0.0,1.0)(0.2,0.98)(0.4,0.97)(0.6,1.0)(0.8,1.07)(1.0,1.16)(1.2,1.27)(1.32,1.35)(1.34,1.33)(1.345,0.75)}
\cv{R1,bF}{(0.0,1.0)(0.2,0.99)(0.4,1.0)(0.6,0.98)(0.8,0.99)(0.95,1.03)(1.07,1.1)(1.09,1.09)(1.093,0.75)}
\cv{R1,bG}{(0.0,0.99)(0.2,0.97)(0.4,0.98)(0.6,0.96)(0.8,0.97)(0.95,1.02)(1.05,1.07)(1.059,0.75)}
\cv{R2,bA}{(0.0,0.78)(0.05,0.87)(0.1,0.94)(0.19,1.0)(0.5,1.22)(1.0,1.57)(1.5,1.92)(2.0,2.27)(2.4,2.55)(2.64,2.714)(2.68,2.69)(2.69,2.4)(2.693,0.75)}
\cv{R2,bB}{(0.0,0.8)(0.15,0.87)(0.25,0.93)(0.38,1.0)(0.7,1.22)(1.0,1.43)(1.5,1.78)(2.0,2.13)(2.29,2.337)(2.32,2.3)(2.326,0.75)}
\cv{R2,bC}{(0.1,0.8)(0.3,0.92)(0.55,1.0)(0.9,1.24)(1.3,1.52)(1.7,1.8)(1.95,1.977)(1.978,1.94)(1.982,0.75)}
\cv{R2,bD}{(0.2,0.8)(0.4,0.92)(0.57,1.0)(0.9,1.23)(1.2,1.44)(1.5,1.65)(1.64,1.75)(1.668,1.72)(1.673,0.75)}
\cv{R2,bE}{(0.0,0.98)(0.2,0.96)(0.4,0.95)(0.6,0.99)(0.8,1.06)(1.0,1.15)(1.2,1.26)(1.31,1.33)(1.322,0.75)}
\cv{R2,bF}{(0.0,0.98)(0.3,0.96)(0.5,0.93)(0.7,0.96)(0.9,0.99)(1.0,1.04)(1.05,1.07)(1.059,0.75)}
\cv{R2,bG}{(0.0,0.97)(0.3,0.93)(0.5,0.85)(0.6,0.82)(0.7,0.86)(0.8,0.9)(0.9,0.95)(0.94,0.98)(0.944,0.75)}
\cv{R3,bA}{(0.0,0.78)(0.05,0.86)(0.1,0.93)(0.19,1.0)(0.5,1.22)(1.0,1.57)(1.5,1.92)(2.0,2.27)(2.3,2.47)(2.5,2.616)(2.545,2.6)(2.552,2.3)(2.555,0.75)}
\cv{R3,bB}{(0.0,0.78)(0.15,0.87)(0.25,0.93)(0.376,1.0)(0.7,1.23)(1.0,1.44)(1.5,1.79)(1.9,2.07)(2.17,2.256)(2.2,2.22)(2.211,0.75)}
\cv{R3,bC}{(0.1,0.78)(0.3,0.9)(0.57,1.0)(0.9,1.23)(1.3,1.51)(1.6,1.72)(1.87,1.91)(1.897,1.88)(1.902,0.75)}
\cv{R3,bD}{(0.2,0.78)(0.4,0.9)(0.61,1.0)(0.9,1.2)(1.2,1.41)(1.45,1.59)(1.57,1.674)(1.588,1.64)(1.593,0.75)}
\cv{R3,bE}{(0.0,0.97)(0.2,0.95)(0.4,0.94)(0.6,0.97)(0.8,1.04)(1.0,1.13)(1.2,1.24)(1.25,1.29)(1.265,0.75)}
\cv{R3,bF}{(0.0,0.97)(0.3,0.94)(0.5,0.9)(0.6,0.88)(0.7,0.9)(0.85,0.95)(0.95,1.0)(1.02,1.05)(1.03,0.75)}
\cv{R3,bG}{(0.0,0.96)(0.3,0.9)(0.4,0.8)(0.5,0.78)(0.6,0.8)(0.75,0.88)(0.85,0.93)(0.93,0.97)(0.94,0.75)}
\cv{R4,bA}{(0.0,0.8)(0.15,1.0)(0.5,1.25)(0.9,1.55)(1.3,1.8)(1.6,1.95)(1.8,2.1)(1.95,2.22)(2.05,2.33)(2.065,2.2)(2.07,0.75)}
\cv{R4,bB}{(0.0,0.8)(0.2,0.9)(0.45,1.0)(0.8,1.24)(1.2,1.51)(1.5,1.72)(1.81,1.95)(1.833,1.9)(1.838,0.75)}
\cv{R4,bC}{(0.1,0.8)(0.35,0.92)(0.58,1.0)(0.9,1.22)(1.2,1.42)(1.45,1.6)(1.65,1.75)(1.668,1.72)(1.673,0.75)}
\cv{R4,bD}{(0.2,0.8)(0.45,0.93)(0.67,1.0)(0.9,1.17)(1.1,1.31)(1.3,1.45)(1.5,1.58)(1.523,1.55)(1.528,0.75)}
\cv{R4,bE}{(0.0,0.97)(0.3,0.93)(0.45,0.8)(0.55,0.78)(0.65,0.82)(0.8,0.95)(1.0,1.1)(1.2,1.25)(1.24,1.28)(1.25,0.75)}
\cv{R4,bF}{(0.0,0.96)(0.3,0.92)(0.5,0.85)(0.7,0.88)(0.85,0.95)(0.97,1.02)(1.0,0.75)}
\cv{R4,bG}{(0.0,0.95)(0.3,0.88)(0.45,0.77)(0.6,0.8)(0.8,0.9)(0.94,0.97)(0.96,0.75)}
\cv{R5,bA}{(0.0,0.8)(0.15,0.95)(0.32,1.0)(0.6,1.2)(0.9,1.42)(1.2,1.62)(1.5,1.82)(1.71,1.97)(1.735,1.9)(1.741,0.75)}
\cv{R5,bB}{(0.0,0.8)(0.2,0.9)(0.36,1.0)(0.6,1.17)(0.9,1.38)(1.2,1.59)(1.5,1.8)(1.522,1.76)(1.528,0.75)}
\cv{R5,bC}{(0.1,0.8)(0.35,0.93)(0.55,1.0)(0.8,1.17)(1.05,1.35)(1.28,1.51)(1.315,1.48)(1.322,0.75)}
\cv{R5,bD}{(0.2,0.8)(0.45,0.93)(0.65,1.0)(0.85,1.1)(1.0,1.17)(1.08,1.2)(1.1,0.75)}
\cv{R5,bE}{(0.0,0.96)(0.3,0.93)(0.6,0.95)(0.8,1.0)(0.95,1.05)(1.04,1.08)(1.05,0.75)}
\cv{R5,bF}{(0.0,0.96)(0.3,0.93)(0.6,0.94)(0.8,0.95)(0.93,0.98)(0.96,0.75)}
\cv{R5,bG}{(0.0,0.95)(0.3,0.91)(0.6,0.92)(0.8,0.93)(0.88,0.95)(0.9,0.75)}
\node[nbox] at (rel axis cs:0.735,0.907) {\textit{n}\eq4};
\end{axis}
% ================= n = 6 =================
\begin{axis}[lowaxis, at={(297pt,37.5pt)}, height=160pt,
 xticklabels={,0.25,0.50,0.75,1.00,1.25,1.50,1.75,2.00,2.25,2.50,2.75,3.00},
 ytick={0.75,1,1.25,1.5,1.75,2,2.25,2.5,2.75,3}, yticklabels={},
 xlabel={\rvt},
 xlabel style={font=\fontsize{13}{15}\selectfont, at={(axis description cs:0.5,-0.165)}, anchor=center}]
\addlegendimage{B1,bA}\addlegendentry{\thl{0.13}}
\addlegendimage{B2,bA}\addlegendentry{\thl{0.40}}
\addlegendimage{B3,bA}\addlegendentry{\thl{1.0}}
\addlegendimage{B4,bA}\addlegendentry{\thl{4}}
\addlegendimage{B5,bA}\addlegendentry{\thl{8}}
\cv{B1,bA}{(0.0,0.78)(0.05,0.88)(0.1,0.95)(0.2,1.0)(0.5,1.21)(1.0,1.56)(1.5,1.91)(2.0,2.26)(2.4,2.53)(2.668,2.725)(2.71,2.7)(2.716,2.4)(2.718,0.75)}
\cv{B1,bB}{(0.0,0.8)(0.15,0.88)(0.25,0.93)(0.415,1.0)(0.8,1.27)(1.2,1.55)(1.6,1.82)(2.0,2.1)(2.325,2.337)(2.355,2.31)(2.362,0.75)}
\cv{B1,bC}{(0.1,0.8)(0.3,0.92)(0.52,1.0)(0.9,1.26)(1.3,1.54)(1.7,1.82)(1.99,2.03)(2.02,2.0)(2.027,0.75)}
\cv{B1,bD}{(0.2,0.8)(0.45,0.93)(0.69,1.0)(1.0,1.22)(1.3,1.43)(1.65,1.67)(1.675,1.64)(1.681,0.75)}
\cv{B1,bE}{(0.0,1.0)(0.2,0.99)(0.4,0.98)(0.6,1.0)(0.8,1.08)(1.0,1.19)(1.2,1.3)(1.31,1.37)(1.328,1.34)(1.333,0.75)}
\cv{B1,bF}{(0.0,1.0)(0.2,1.0)(0.4,0.99)(0.6,0.98)(0.8,0.99)(0.95,1.04)(1.09,1.12)(1.103,1.1)(1.107,0.75)}
\cv{B1,bG}{(0.0,1.0)(0.2,0.99)(0.4,0.98)(0.6,0.97)(0.8,0.98)(0.95,1.02)(1.06,1.08)(1.067,0.75)}
\cv{B2,bA}{(0.0,0.78)(0.1,0.93)(0.215,1.0)(0.6,1.27)(1.0,1.55)(1.5,1.9)(2.0,2.25)(2.4,2.53)(2.607,2.674)(2.65,2.65)(2.655,2.4)(2.658,0.75)}
\cv{B2,bB}{(0.0,0.8)(0.2,0.9)(0.4,1.0)(0.8,1.28)(1.2,1.56)(1.6,1.84)(2.0,2.12)(2.27,2.31)(2.3,2.28)(2.305,0.75)}
\cv{B2,bC}{(0.1,0.8)(0.3,0.92)(0.54,1.0)(0.9,1.25)(1.3,1.53)(1.7,1.81)(1.94,1.98)(1.978,1.95)(1.983,0.75)}
\cv{B2,bD}{(0.2,0.8)(0.45,0.93)(0.7,1.0)(1.0,1.21)(1.3,1.42)(1.62,1.64)(1.642,1.6)(1.647,0.75)}
\cv{B2,bE}{(0.0,0.98)(0.2,0.96)(0.4,0.95)(0.6,0.98)(0.8,1.06)(1.0,1.17)(1.2,1.28)(1.29,1.35)(1.305,0.75)}
\cv{B2,bF}{(0.0,0.98)(0.3,0.96)(0.5,0.95)(0.7,0.97)(0.9,1.0)(1.0,1.05)(1.06,1.09)(1.067,0.75)}
\cv{B2,bG}{(0.0,0.97)(0.3,0.94)(0.5,0.93)(0.7,0.95)(0.9,0.99)(1.03,1.05)(1.037,0.75)}
\cv{B3,bA}{(0.0,0.78)(0.1,0.93)(0.22,1.0)(0.6,1.27)(1.0,1.55)(1.5,1.9)(2.0,2.25)(2.3,2.46)(2.476,2.58)(2.525,2.55)(2.53,2.3)(2.533,0.75)}
\cv{B3,bB}{(0.0,0.8)(0.2,0.9)(0.4,1.0)(0.8,1.28)(1.2,1.56)(1.6,1.84)(1.9,2.05)(2.15,2.22)(2.18,2.19)(2.188,0.75)}
\cv{B3,bC}{(0.1,0.8)(0.35,0.93)(0.57,1.0)(0.9,1.23)(1.3,1.51)(1.6,1.72)(1.86,1.9)(1.88,1.87)(1.886,0.75)}
\cv{B3,bD}{(0.2,0.8)(0.45,0.93)(0.71,1.0)(1.0,1.2)(1.3,1.41)(1.57,1.6)(1.585,1.57)(1.59,0.75)}
\cv{B3,bE}{(0.0,0.97)(0.2,0.95)(0.4,0.94)(0.6,0.97)(0.8,1.05)(1.0,1.14)(1.2,1.25)(1.245,1.29)(1.258,0.75)}
\cv{B3,bF}{(0.0,0.97)(0.3,0.94)(0.5,0.92)(0.7,0.95)(0.9,0.99)(1.0,1.03)(1.03,1.05)(1.037,0.75)}
\cv{B3,bG}{(0.0,0.96)(0.3,0.92)(0.5,0.9)(0.7,0.93)(0.85,0.97)(0.96,1.0)(0.966,0.75)}
\cv{B4,bA}{(0.0,0.8)(0.1,0.93)(0.2,1.0)(0.6,1.28)(1.0,1.55)(1.3,1.76)(1.4,1.82)(1.5,1.88)(1.6,1.94)(1.8,2.05)(1.95,2.15)(2.06,2.25)(2.11,2.2)(2.114,0.75)}
\cv{B4,bB}{(0.0,0.8)(0.2,0.9)(0.4,1.0)(0.8,1.27)(1.2,1.55)(1.5,1.76)(1.75,1.93)(1.8,1.96)(1.828,1.9)(1.832,0.75)}
\cv{B4,bC}{(0.1,0.8)(0.35,0.93)(0.57,1.0)(0.9,1.23)(1.2,1.44)(1.45,1.62)(1.55,1.71)(1.565,1.65)(1.57,0.75)}
\cv{B4,bD}{(0.2,0.8)(0.45,0.93)(0.7,1.0)(1.0,1.21)(1.25,1.4)(1.45,1.58)(1.485,1.55)(1.49,0.75)}
\cv{B4,bE}{(0.0,0.97)(0.3,0.95)(0.6,0.96)(0.8,1.03)(1.0,1.11)(1.13,1.19)(1.148,0.75)}
\cv{B4,bF}{(0.0,0.97)(0.3,0.94)(0.6,0.92)(0.8,0.96)(0.95,1.0)(0.99,1.03)(1.0,0.75)}
\cv{B4,bG}{(0.0,0.96)(0.3,0.92)(0.6,0.9)(0.8,0.93)(0.94,0.98)(0.95,0.75)}
\cv{B5,bA}{(0.0,0.8)(0.1,0.93)(0.2,1.0)(0.6,1.28)(1.0,1.55)(1.3,1.76)(1.4,1.81)(1.5,1.9)(1.58,1.98)(1.62,2.05)(1.66,2.0)(1.675,1.8)(1.681,0.75)}
\cv{B5,bB}{(0.0,0.8)(0.2,0.9)(0.4,1.0)(0.8,1.27)(1.1,1.48)(1.3,1.64)(1.45,1.82)(1.47,1.86)(1.485,1.75)(1.49,0.75)}
\cv{B5,bC}{(0.1,0.8)(0.35,0.93)(0.57,1.0)(0.9,1.23)(1.1,1.37)(1.3,1.52)(1.37,1.6)(1.385,1.55)(1.39,0.75)}
\cv{B5,bD}{(0.2,0.8)(0.45,0.93)(0.7,1.0)(0.95,1.17)(1.15,1.32)(1.28,1.45)(1.295,1.4)(1.3,0.75)}
\cv{B5,bE}{(0.0,0.96)(0.3,0.94)(0.6,0.95)(0.8,1.02)(1.0,1.1)(1.1,1.18)(1.12,0.75)}
\cv{B5,bF}{(0.0,0.96)(0.3,0.93)(0.6,0.92)(0.8,0.95)(0.95,0.99)(0.98,0.75)}
\cv{B5,bG}{(0.0,0.95)(0.3,0.91)(0.6,0.9)(0.8,0.93)(0.92,0.96)(0.93,0.75)}
\node[nbox] at (rel axis cs:0.735,0.907) {\textit{n}\eq6};
\end{axis}
\end{tikzpicture}
\end{document}
